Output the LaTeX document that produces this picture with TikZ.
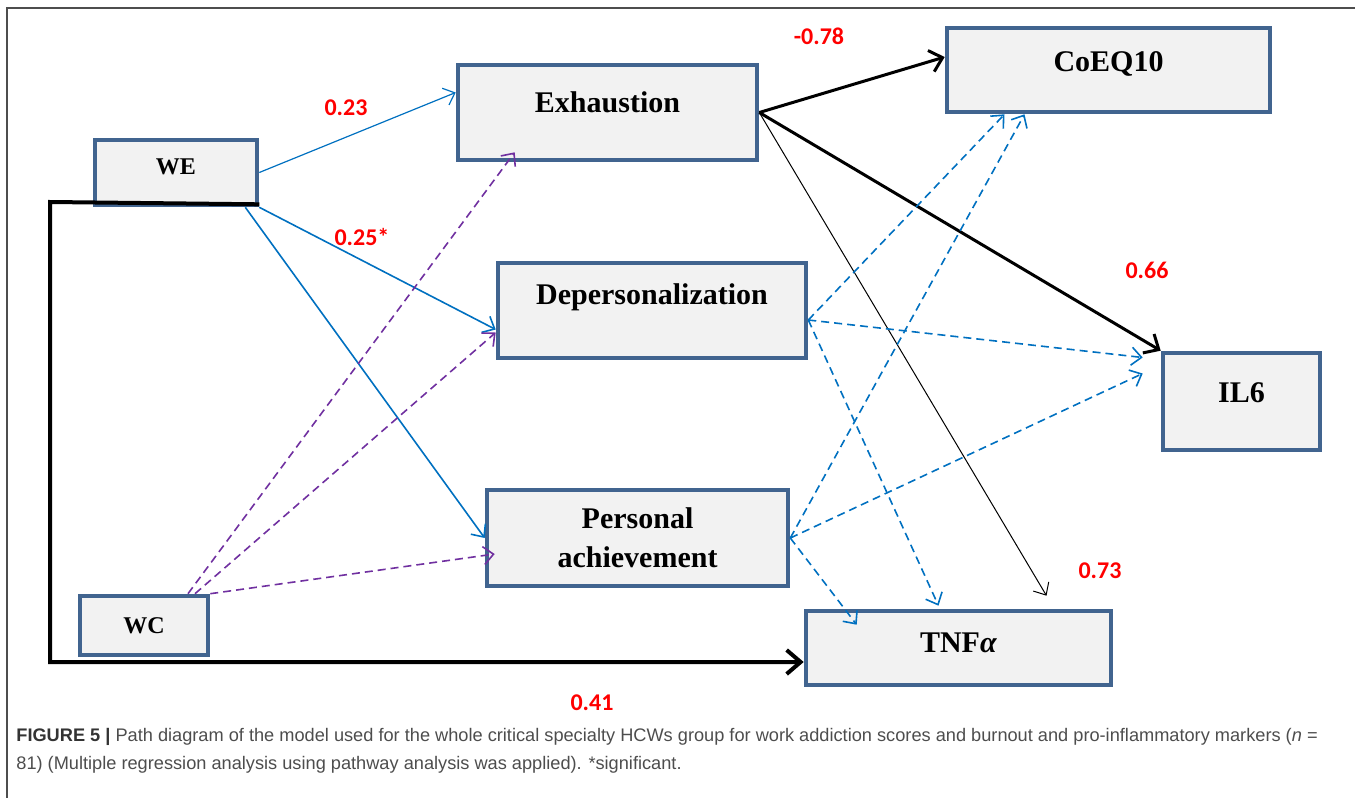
\documentclass[tikz,border=0pt]{standalone}
\usepackage{fontspec}
\setmainfont{Liberation Serif}
\newfontfamily\labfont{Carlito}
\newfontfamily\capfont{Liberation Sans}
\usetikzlibrary{arrows.meta,shadows,calc}
\definecolor{boxblue}{HTML}{41648F}
\definecolor{boxfill}{HTML}{F2F2F2}
\definecolor{lineblue}{HTML}{0070C0}
\definecolor{linepurple}{HTML}{7030A0}
\definecolor{capgray}{HTML}{4D4D4D}
\tikzstyle{arrow} = [->,>={Straight Barb[length=5pt,width=9pt]}]
\tikzset{
box/.style= {rectangle, draw=boxblue, line width=2.3pt, fill=boxfill, align=center, font=\bfseries\fontsize{15}{19.5}\selectfont, drop shadow={opacity=0.3,shadow xshift=1pt,shadow yshift=-1pt}},
smallbox/.style= {box, font=\bfseries\fontsize{12}{14}\selectfont},
lift/.style= {text depth=#1},
coef/.style= {text=red, font=\labfont\bfseries\fontsize{12}{14}\selectfont},
bluesolid/.style= {arrow, draw=lineblue, line width=0.8pt},
bluedash/.style= {arrow, draw=lineblue, line width=0.8pt, dash pattern=on 4pt off 2.5pt},
purpledash/.style= {arrow, draw=linepurple, line width=0.8pt, dash pattern=on 4pt off 2.5pt},
blackpath/.style= {->,>={Straight Barb[length=6pt,width=11pt]}, line width=1.5pt}
}
\begin{document}
\begin{tikzpicture}[x=0.5pt,y=-0.5pt]
\useasboundingbox (0,0) rectangle (1355,798);

% frame of the figure
\draw[capgray, line width=1pt] (7,798) -- (7,8) -- (1355,8);

% the boxes
\node[smallbox, minimum width=81pt, minimum height=32.5pt, lift=5.5pt] (we) at (176,172.5) {WE};
\node[smallbox, minimum width=64pt, minimum height=29.5pt] (wc) at (144,625.5) {WC};
\node[box, minimum width=149.5pt, minimum height=47.5pt, lift=10pt] (exh) at (607.5,112.5) {Exhaustion};
\node[box, minimum width=154pt, minimum height=47.5pt, lift=16pt] (dep) at (652,310.5) {Depersonalization};
\node[box, minimum width=150.5pt, minimum height=48pt] (pa) at (637.5,538) {Personal\\achievement};
\node[box, minimum width=161.5pt, minimum height=42pt, lift=8pt] (coq) at (1108.5,70) {CoEQ10};
\node[box, minimum width=78.5pt, minimum height=48.5pt, lift=8.5pt] (il6) at (1241.5,401.5) {IL6};
\node[box, minimum width=152.5pt, minimum height=37pt, lift=5pt] (tnf) at (958.5,648) {TNF\textit{α}};

% end points of the paths
\coordinate (exhW) at ([yshift=10pt]exh.west);
\coordinate (exhS) at ([xshift=29.5pt,yshift=5pt]exh.south west);
\coordinate (depW1) at ([yshift=-9.5pt]dep.west);
\coordinate (depW2) at ([yshift=-11pt]dep.west);
\coordinate (depE) at ([yshift=-4.75pt]dep.east);
\coordinate (paW2) at ([xshift=5pt,yshift=-8pt]pa.west);
\coordinate (wcA) at ([xshift=22pt]wc.north);
\coordinate (wcB) at ([xshift=25.5pt]wc.north);
\coordinate (coqW) at ([yshift=6.5pt]coq.west);
\coordinate (coqA) at ([xshift=-52pt]coq.south);
\coordinate (coqB) at ([xshift=-42pt]coq.south);
\coordinate (il6A) at ([xshift=-9pt,yshift=22pt]il6.west);
\coordinate (il6B) at ([xshift=-9pt,yshift=14pt]il6.west);
\coordinate (tnfA) at ([xshift=-10pt,yshift=1.5pt]tnf.north);
\coordinate (tnfB) at ([xshift=26.5pt,yshift=-8pt]tnf.north west);
\coordinate (tnfC) at ([xshift=44pt,yshift=6.5pt]tnf.north);
\coordinate (tnfW) at ([yshift=-7pt]tnf.west);
\coordinate (c1) at (50,202);

% paths from WE
\draw[bluesolid, line width=0.6pt] (we.east) -- (exhW);
\draw[bluesolid] (we.south east) -- (depW1);
\draw[bluesolid] ([xshift=-7pt]we.south east) -- (pa.west);

% paths from WC
\foreach \s/\t in {wcA/exhS, wcB/depW2, wc.north east/paW2}
  \draw[purpledash] (\s) -- (\t);

% paths from Exhaustion
\draw[blackpath] (exh.east) -- (coqW);
\draw[blackpath] (exh.east) -- (il6.north west);
\draw[arrow, line width=0.5pt] (exh.east) -- (tnfC);

% paths from Depersonalization and Personal achievement
\foreach \t in {coqA, il6A, tnfA}
  \draw[bluedash] (depE) -- (\t);
\foreach \t in {coqB, il6B, tnfB}
  \draw[bluedash] (pa.east) -- (\t);

% WE and WC to TNF
\draw[blackpath, line width=2pt, >={Straight Barb[length=7pt,width=12pt]}] ([yshift=1.5pt]we.south east) -- (c1) |- (tnfW);

% coefficients
\node[coef] (b23) at (346,108) {0.23};
\node[coef] (b25) at (362,237) {0.25*};
\node[coef] (b78) at (819,36) {-0.78};
\node[coef] (b66) at (1147,270) {0.66};
\node[coef] (b73) at (1100,571) {0.73};
\node[coef] (b41) at (592,703) {0.41};

% caption
\node[anchor=north west, align=left, inner sep=0pt, text=capgray, font=\capfont\fontsize{9.1}{14}\selectfont] (caption) at (16,728)
  {\textbf{\color{black!80}FIGURE 5 |} Path diagram of the model used for the whole critical specialty HCWs group for work addiction scores and burnout and pro-inflammatory markers (\textit{n} =\\
   81) (Multiple regression analysis using pathway analysis was applied). *significant.};
\end{tikzpicture}
\end{document}
